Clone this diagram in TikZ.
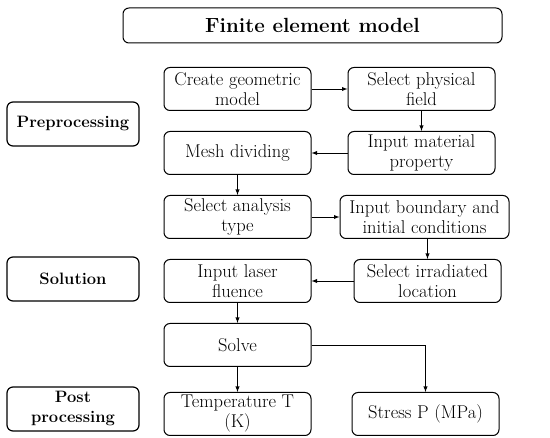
\documentclass[tikz,border=0pt]{standalone}
\usepackage{tikz}
\usetikzlibrary{arrows,positioning,calc}

\begin{document}
\begin{tikzpicture}[
    x=1pt, y=-1pt,
    node distance=20pt and 36pt,
    block/.style={draw, rectangle, rounded corners=6pt, line width=1pt, minimum width=147pt, minimum height=43pt, align=center, inner sep=1pt, font=\fontsize{18.5}{20}\selectfont},
    stage/.style={draw, rectangle, rounded corners=6pt, line width=1.2pt, minimum width=132pt, minimum height=44pt, align=center, inner sep=1pt, font=\fontsize{16.5}{20}\selectfont\bfseries},
    headbox/.style={draw, rectangle, rounded corners=6pt, line width=1pt, minimum width=379pt, minimum height=35pt, align=center, font=\fontsize{20.5}{24}\selectfont\bfseries},
    arrow/.style={-latex, line width=0.9pt}
]
    \useasboundingbox (0,0) rectangle (550,438);

    % Title
    \node [headbox] (fem) at (312.5,25.5) {Finite element model};

    % Stages (left)
    \node [stage] (pre) at (73,124) {Preprocessing};
    \node [stage] (sol) at (73,279) {Solution};
    \node [stage] (post) at (73,409) {Post\\processing};

    % Steps
    \node [block] (geom) at (237.5,89) {Create geometric\\model};
    \node [block, right=of geom] (field) {Select physical\\field};
    \node [block, below=of field] (material) {Input material\\property};
    \node [block, below=of geom] (mesh) {Mesh dividing};
    \node [block, below=of mesh] (analysis) {Select analysis\\type};
    \node [block, right=28pt of analysis, minimum width=169pt] (boundary) {Input boundary and\\initial conditions};
    \node [block, below=of boundary, xshift=3pt] (location) {Select irradiated\\location};
    \node [block, below=of analysis] (fluence) {Input laser\\fluence};
    \node [block, below=of fluence] (solve) {Solve};
    \node [block, below=25pt of solve] (temp) {Temperature T\\(K)};
    \node [block, right=40pt of temp] (stress) {Stress P (MPa)};

    % Connections
    \draw [arrow] (geom) -- (field);
    \draw [arrow] (field) -- (material);
    \draw [arrow] (material) -- (mesh);
    \draw [arrow] (mesh) -- (analysis);
    \draw [arrow] (analysis) -- (boundary);
    \draw [arrow] (location.north |- boundary.south) -- (location.north);
    \draw [arrow] (location) -- (fluence);
    \draw [arrow] (fluence) -- (solve);
    \draw [arrow] (solve) -- (temp);
    \draw [arrow] (solve) -| (stress);

\end{tikzpicture}
\end{document}
